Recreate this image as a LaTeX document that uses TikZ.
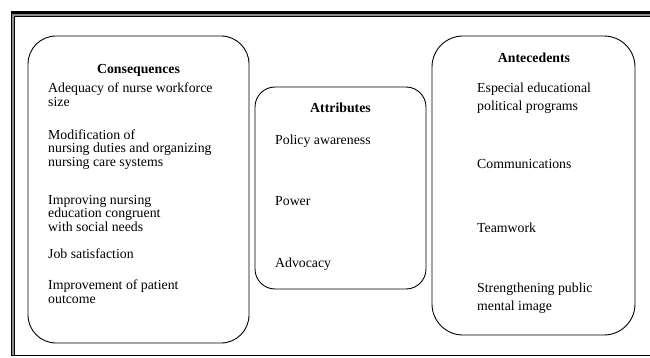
\documentclass[tikz,border=0pt]{standalone}
\usepackage{fontspec}
\setmainfont{Liberation Serif}
\begin{document}
\begin{tikzpicture}[x=1pt,y=-1pt,
  box/.style={draw=black,line width=0.9pt},
  ttl/.style={anchor=base,inner sep=0pt,font=\fontsize{13.8}{13.7}\selectfont\bfseries},
  itemL/.style={anchor=base west,inner sep=0pt,align=left,font=\fontsize{13.8}{13.7}\selectfont},
  itemR/.style={anchor=base west,inner sep=0pt,align=left,font=\fontsize{13.8}{17.5}\selectfont},
  frameline/.style={line width=1pt}]
\useasboundingbox (0,0) rectangle (650,358);
% frame
\fill[black!45] (11,13) rectangle (650,16.5);
\fill[black!45] (11,13) rectangle (14.5,356);
\draw[line width=2.4pt] (10.5,12.5) -- (650,12.5);
\draw[frameline] (14.5,16.5) -- (650,16.5);
\draw[line width=1.2pt] (11.2,11.3) -- (11.2,356);
\draw[frameline] (14.5,16.5) -- (14.5,356);
\draw[line width=1.2pt] (10.6,355.6) -- (650,355.6);
% boxes
\draw[box,rounded corners=28pt] (28,36) rectangle (249,343);
\draw[box,rounded corners=20pt] (255,87) rectangle (426,289);
\draw[box,rounded corners=31pt] (432,36) rectangle (635,335);
% consequences (base = last line)
\node[ttl] (ct) at (138.5,74) {Consequences};
\node[itemL] (c1) at (48,106.5) {Adequacy of nurse workforce\\size};
\node[itemL] (c2) at (48,166.5) {Modification of\\nursing duties and organizing\\nursing care systems};
\node[itemL] (c3) at (48,231.5) {Improving nursing\\education congruent\\with social needs};
\node[itemL] (c4) at (48,258) {Job satisfaction};
\node[itemL] (c5) at (48,303.5) {Improvement of patient\\outcome};
% attributes
\node[ttl] (at) at (340.5,113) {Attributes};
\node[itemL] (a1) at (275,145) {Policy awareness};
\node[itemL] (a2) at (275,205) {Power};
\node[itemL] (a3) at (275,267) {Advocacy};
% antecedents
\node[ttl] (nt) at (534,62.5) {Antecedents};
\node[itemR] (n1) at (477,110.5) {Especial educational\\political programs};
\node[itemR] (n2) at (477,168) {Communications};
\node[itemR] (n3) at (477,232) {Teamwork};
\node[itemR] (n4) at (477,310) {Strengthening public\\mental image};
\end{tikzpicture}
\end{document}
